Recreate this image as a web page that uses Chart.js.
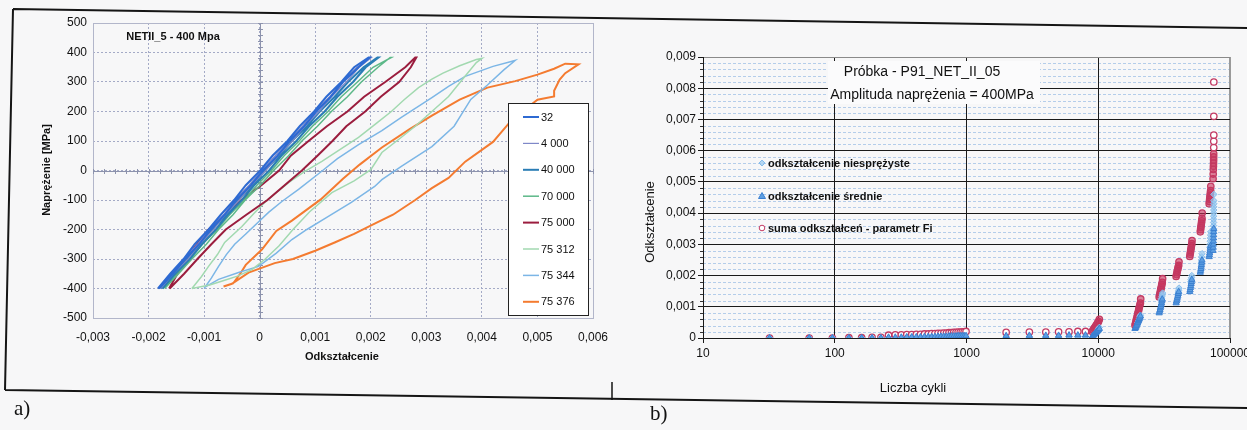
<!DOCTYPE html>
<html><head><meta charset="utf-8">
<script src="https://cdn.jsdelivr.net/npm/chart.js@4.4.1/dist/chart.umd.min.js"></script>
<style>
html,body{margin:0;padding:0;background:#f7f7f8;overflow:hidden;width:1247px;height:430px;position:relative;}
canvas{position:absolute;display:block;}
#deco{left:0;top:0;}
#cL{left:0;top:0;}
#cR{left:612px;top:0;}
.lbl{position:absolute;font-family:"Liberation Serif","DejaVu Serif",serif;font-size:21px;color:#111;}
</style></head><body>
<canvas id="deco" width="1247" height="430"></canvas>
<canvas id="cL" width="612" height="400"></canvas>
<canvas id="cR" width="660" height="430"></canvas>
<div class="lbl" style="left:14px;top:396px">a)</div>
<div class="lbl" style="left:650px;top:401px">b)</div>
<script>
// ================= DATA: left chart (stress-strain loops) =================
const loopLabels = ['32','4 000','40 000','70 000','75 000','75 312','75 344','75 376'];
const xTicksLeft = [-0.003,-0.002,-0.001,0,0.001,0.002,0.003,0.004,0.005,0.006];
const yTicksLeft = [-500,-400,-300,-200,-100,0,100,200,300,400,500];

const stressCluster = [-400,-350,-300,-250,-200,-150,-100,-50,0,50,100,150,200,250,300,350,383,
                       383,350,300,250,200,150,100,50,0,-50,-100,-150,-200,-250,-300,-350,-400];
const strain32 = [-0.00183,-0.00161,-0.00137,-0.00117,-0.00092,-0.0007,-0.00046,-0.00025,0.00001,0.00023,0.0005,0.00072,0.00098,0.0012,0.00147,0.0017,0.00196,
                  0.00198,0.00178,0.0015,0.00128,0.00102,0.0008,0.00054,0.00032,0.00006,-0.00016,-0.00042,-0.00063,-0.00088,-0.00109,-0.00134,-0.00156,-0.00181];
const strain4000 = [-0.00181,-0.00157,-0.00136,-0.00112,-0.00091,-0.00065,-0.00045,-0.00019,0.00003,0.00028,0.00051,0.00077,0.00099,0.00126,0.00149,0.00175,0.00199,
                    0.00201,0.00179,0.00156,0.00129,0.00107,0.00081,0.00059,0.00033,0.00011,-0.00015,-0.00037,-0.00062,-0.00083,-0.00108,-0.00129,-0.00156,-0.00178];
const strain40000 = [-0.00178,-0.00153,-0.00132,-0.00107,-0.00086,-0.0006,-0.00039,-0.00013,0.00009,0.00035,0.00058,0.00085,0.00108,0.00135,0.00159,0.00187,0.00212,
                     0.00214,0.00191,0.00168,0.0014,0.00117,0.00089,0.00066,0.00039,0.00017,-0.0001,-0.00032,-0.00057,-0.00079,-0.00104,-0.00126,-0.00152,-0.00175];
const strain70000 = [-0.00174,-0.0015,-0.00125,-0.00103,-0.00077,-0.00054,-0.00028,-0.00005,0.00021,0.00044,0.00071,0.00095,0.00123,0.00147,0.00176,0.00204,0.00237,
                     0.00235,0.00213,0.00183,0.00158,0.00129,0.00104,0.00076,0.00052,0.00025,0.00001,-0.00026,-0.00048,-0.00074,-0.00096,-0.00122,-0.00146,-0.00171];
const strain75000 = [-0.00163,-0.00148,-0.00134,-0.00113,-0.00092,-0.00062,-0.00033,0.00003,0.00035,0.00056,0.00088,0.00121,0.00158,0.00188,0.00226,0.00262,0.0028,
                     0.00282,0.00272,0.00251,0.00218,0.0019,0.00156,0.00131,0.00104,0.00076,0.00045,0.00014,-0.00024,-0.00061,-0.00087,-0.00112,-0.00136,-0.00162];
const stress75000 = stressCluster;
const strain75312 = [-0.00122,-0.00105,-0.00092,-0.00076,-0.00063,-0.00032,-0.0001,0.00009,0.0003,0.00052,0.0008,0.00112,0.00145,0.00178,0.0021,0.00237,0.0026,0.00286,0.0031,0.0033,0.0036,0.0039,0.004,
                     0.0039,0.0037,0.0034,0.0031,0.0028,0.0025,0.0022,0.002,0.0017,0.0013,0.0009,0.0006,0.00035,0.0001,-0.00014,-0.0004,-0.00063,-0.0009,-0.00122];
const stress75312 = [-400,-360,-325,-285,-244,-190,-145,-108,-75,-41,-5,31,72,112,160,200,240,281,310,330,355,376,380,
                     366,320,251,200,150,105,61,3,-35,-75,-140,-200,-255,-300,-336,-358,-372,-388,-400];
const strain75344 = [-0.001,-0.00087,-0.00074,-0.0006,-0.00045,-0.00025,0.00016,0.0004,0.0007,0.0011,0.0014,0.00178,0.0022,0.00255,0.0031,0.0034,0.0037,0.0042,0.0046,
                     0.0044,0.0041,0.0038,0.0035,0.0031,0.00255,0.0022,0.00207,0.00165,0.0012,0.00085,0.00058,0.0003,-0.00002,-0.00038,-0.00074,-0.001];
const stress75344 = [-400,-365,-325,-285,-250,-215,-142,-105,-64,-5,40,88,135,180,247,285,319,353,373,
                     342,290,241,150,81,14,-31,-54,-108,-160,-200,-234,-280,-325,-346,-369,-397];
const strain75376 = [-0.00065,-0.00048,-0.00035,-0.00025,0.00004,0.0003,0.00058,0.0011,0.0015,0.0018,0.0022,0.0027,0.0031,0.0036,0.0041,0.0046,0.005,0.0053,0.0055,0.00574,
                     0.0055,0.0054,0.0053,0.0053,0.005,0.0048,0.0045,0.0042,0.0037,0.0034,0.0031,0.0028,0.0024,0.00207,0.0017,0.00135,0.001,0.0006,0.00027,-0.0002,-0.0005,-0.00065];
const stress75376 = [-393,-383,-350,-320,-268,-205,-170,-98,-28,20,78,140,186,240,281,303,325,345,362,360,
                     330,308,270,251,240,210,163,97,30,-25,-60,-100,-150,-180,-215,-244,-272,-300,-314,-346,-384,-393];

// ================= DATA: right chart (strain vs cycles) =================
const seriesNames = ['odkształcenie niesprężyste','odkształcenie średnie','suma odkształceń - parametr Fi'];
const yTicksRight = [0,0.001,0.002,0.003,0.004,0.005,0.006,0.007,0.008,0.009];
const xTicksRight = [10,100,1000,10000,100000];

const sumaN = [32,64,96,128,160,192,224,
  256,288,320,352,384,416,448,480,512,544,576,608,640,672,704,736,768,800,832,864,896,928,960,992,
  2000,3000,4000,5000,6000,7000,8000,
  9000,9150,9300,9450,9600,9750,9900,10050,10200,
  19000,19200,19350,19500,19700,19850,20000,20200,20350,20500,20700,20900,21000,
  29000,29200,29400,29600,29800,30000,30200,30400,30600,30800,
  39000,39300,39600,39900,40200,40500,40800,41000,
  49500,49800,50100,50400,50700,51000,51300,51500,
  59500,59800,60100,60400,60700,61000,61300,61500,
  69500,69800,70100,70400,70700,71000,71300,71500,
  74400,74550,74700,74850,75000,75100,75150,75200,75250,75300,75330,75350,75376];
const sumaE = [0,0,0,0.00001,0.00001,0.00002,0.00002,
  0.00009,0.0001,0.0001,0.00011,0.00011,0.00012,0.00012,0.00013,0.00013,0.00014,0.00014,0.00015,0.00015,0.00016,0.00016,0.00017,0.00017,0.00018,0.00018,0.00019,0.00019,0.0002,0.0002,0.00021,
  0.00018,0.00019,0.00019,0.0002,0.0002,0.00021,0.00021,
  0.00021,0.00026,0.00031,0.00035,0.0004,0.00044,0.00049,0.00053,0.0006,
  0.00041,0.00047,0.00054,0.0006,0.00067,0.00073,0.0008,0.00086,0.00093,0.00099,0.00106,0.00112,0.00125,
  0.00131,0.00137,0.00142,0.00149,0.00155,0.0016,0.00166,0.00172,0.00178,0.0019,
  0.00197,0.00203,0.0021,0.00216,0.00222,0.00228,0.00233,0.00244,
  0.00261,0.00268,0.00275,0.00282,0.00289,0.00296,0.00302,0.00312,
  0.0034,0.00347,0.00354,0.00361,0.00368,0.00375,0.00383,0.004,
  0.0043,0.00437,0.00444,0.00451,0.00458,0.00465,0.00472,0.00486,
  0.0051,0.00525,0.0054,0.0055,0.0056,0.0057,0.0058,0.0059,0.0061,0.0063,0.0065,0.0071,0.0082];

const srednieN = [32,64,96,128,160,192,224,
  256,288,320,352,384,416,448,480,512,544,576,608,640,672,704,736,768,800,832,864,896,928,960,992,
  2000,3000,4000,5000,6000,7000,8000,
  9000,9150,9300,9450,9600,9750,9900,10050,10200,
  19000,19200,19350,19500,19700,19850,20000,20200,20350,20500,20700,20900,
  29000,29200,29400,29600,29800,30000,30200,30400,30600,
  39000,39300,39600,39900,40200,40500,40800,
  49500,49800,50100,50400,50700,51000,51300,
  59500,59800,60100,60400,60700,61000,61300,
  69500,69800,70100,70400,70700,71000,71300,
  74400,74550,74700,74850,75000,75100,75200,75300];
const srednieE = [0,0,0,0,0,0,0,
  0.00002,0.00002,0.00002,0.00003,0.00003,0.00003,0.00003,0.00004,0.00004,0.00004,0.00004,0.00005,0.00005,0.00005,0.00005,0.00006,0.00006,0.00006,0.00006,0.00007,0.00007,0.00007,0.00007,0.00007,
  0.00007,0.00008,0.00008,0.00008,0.00009,0.00009,0.00009,
  0.00005,0.00008,0.00011,0.00014,0.00017,0.0002,0.00023,0.00026,0.0003,
  0.0003,0.00033,0.00037,0.0004,0.00044,0.00048,0.00051,0.00055,0.00059,0.00062,0.00066,0.0007,
  0.0008,0.00085,0.0009,0.00096,0.00101,0.00107,0.00112,0.00118,0.00124,
  0.00112,0.00118,0.00124,0.0013,0.00136,0.00142,0.00148,
  0.00148,0.00154,0.00161,0.00167,0.00174,0.0018,0.00187,
  0.0021,0.00216,0.00222,0.00229,0.00235,0.00242,0.00249,
  0.0026,0.00266,0.00272,0.00278,0.00284,0.0029,0.00296,
  0.0028,0.0029,0.003,0.0031,0.0032,0.0033,0.0034,0.0035];

const niespN = [32,64,96,128,160,192,224,
  256,320,384,448,512,576,640,704,768,832,896,960,
  2000,3000,4000,5000,6000,7000,8000,
  9400,9600,9800,10000,10200,
  20000,20300,20500,20700,20900,
  30000,30200,30400,30600,30800,
  40200,40500,40800,41000,
  50400,50700,51000,51300,
  60400,60700,61000,61300,
  70400,70600,70800,71000,71200,71400,
  74800,74900,75000,75050,75100,75150,75200,75250,75300,75330,75350,75376];
const niespE = [0,0,0,0,0,0,0,
  0.00001,0.00001,0.00002,0.00002,0.00002,0.00003,0.00003,0.00003,0.00003,0.00004,0.00004,0.00004,
  0.00003,0.00003,0.00003,0.00003,0.00004,0.00004,0.00004,
  0.0001,0.00016,0.00022,0.00028,0.00034,
  0.0005,0.00056,0.00062,0.00068,0.00073,
  0.0012,0.00126,0.00132,0.00138,0.00144,
  0.0014,0.00147,0.00153,0.0016,
  0.0018,0.00187,0.00193,0.002,
  0.0024,0.0025,0.0026,0.0027,
  0.0029,0.0030,0.0031,0.0032,0.0033,0.0034,
  0.0034,0.0035,0.0036,0.0037,0.0038,0.0039,0.004,0.0041,0.0042,0.0043,0.0044,0.0046];

// ================= helpers =================
const FONT = '"Liberation Sans", Arial, Helvetica, sans-serif';
Chart.defaults.font.family = FONT;
Chart.defaults.font.size = 12;
Chart.defaults.color = '#111';
Chart.defaults.animation = false;

function pts(xs, ys){ return xs.map((x,i)=>({x:x, y:ys[i]})); }
function plFmt(v){ const k = Math.round(v*1000); if (k===0) return '0'; return (k<0?'-':'')+'0,00'+Math.abs(k); }

// ================= decoration (frames of the figure) =================
(function(){
  const c = document.getElementById('deco').getContext('2d');
  c.strokeStyle = '#151515'; c.lineWidth = 2;
  c.beginPath();
  c.moveTo(13,9); c.lineTo(1247,28);
  c.moveTo(13,9); c.lineTo(5,390);
  c.moveTo(5,390); c.lineTo(1247,408);
  c.stroke();
  c.lineWidth = 1.5;
  c.beginPath(); c.moveTo(612,382); c.lineTo(612,400); c.stroke();
})();

// ================= LEFT CHART =================
const loopColors = ['#2e6ad2','#7f88c8','#2a7db5','#5cb888','#9b1d3e','#a2d9b0','#7cb6e6','#f47b30'];
const loopWidths = [2,1.2,2,1.5,2,1.5,1.5,2];
const loopData = [pts(strain32,stressCluster),pts(strain4000,stressCluster),pts(strain40000,stressCluster),
  pts(strain70000,stressCluster),pts(strain75000,stress75000),pts(strain75312,stress75312),
  pts(strain75344,stress75344),pts(strain75376,stress75376)];

const leftDecor = {
  id:'leftDecor',
  beforeDatasetsDraw(chart){
    const {ctx, chartArea:a, scales:{x,y}} = chart;
    ctx.save();
    ctx.strokeStyle = '#b2b6ca'; ctx.lineWidth = 1;
    ctx.strokeRect(a.left+0.5, a.top+0.5, a.right-a.left, a.bottom-a.top);
    const y0 = Math.round(y.getPixelForValue(0))+0.5, x0 = Math.round(x.getPixelForValue(0))+0.5;
    ctx.strokeStyle = '#8d93ad';
    ctx.beginPath(); ctx.moveTo(a.left,y0); ctx.lineTo(a.right,y0);
    ctx.moveTo(x0,a.top); ctx.lineTo(x0,a.bottom);
    for (let v=-0.003; v<=0.00601; v+=0.0002){ const p=Math.round(x.getPixelForValue(v))+0.5; ctx.moveTo(p,y0-2.5); ctx.lineTo(p,y0+2.5); }
    for (let v=-500; v<=500; v+=20){ const p=Math.round(y.getPixelForValue(v))+0.5; ctx.moveTo(x0-2.5,p); ctx.lineTo(x0+2.5,p); }
    ctx.stroke();
    ctx.restore();
  },
  afterDatasetsDraw(chart){
    const ctx = chart.ctx;
    ctx.save();
    // legend
    ctx.fillStyle = '#fff'; ctx.fillRect(508,103,80,212);
    ctx.strokeStyle = '#222'; ctx.lineWidth = 1; ctx.strokeRect(508.5,103.5,80,212);
    ctx.font = '11px '+FONT; ctx.textBaseline = 'middle'; ctx.textAlign = 'left';
    chart.data.datasets.forEach((ds,i)=>{
      const yy = 117 + i*26.4;
      ctx.strokeStyle = ds.borderColor; ctx.lineWidth = ds.borderWidth;
      ctx.beginPath(); ctx.moveTo(523,yy); ctx.lineTo(539,yy); ctx.stroke();
      ctx.fillStyle = '#111'; ctx.fillText(ds.label,541,yy+0.5);
    });
    // title & axis titles
    ctx.fillStyle = '#111';
    ctx.font = 'bold 11px '+FONT; ctx.textAlign = 'center';
    ctx.fillText('NETII_5 - 400 Mpa', 173, 37);
    ctx.fillText('Odkształcenie', 342, 357);
    ctx.translate(47,170); ctx.rotate(-Math.PI/2);
    ctx.fillText('Naprężenie [MPa]', 0, 0);
    ctx.restore();
  }
};

new Chart(document.getElementById('cL'), {
  type:'scatter',
  data:{ datasets: loopLabels.map((l,i)=>({label:l, data:loopData[i], showLine:true, borderColor:loopColors[i],
    backgroundColor:loopColors[i], borderWidth:loopWidths[i], pointRadius:0, tension:0, fill:false})) },
  options:{
    responsive:false,
    layout:{padding:{left:33,right:19,top:23,bottom:52}},
    plugins:{legend:{display:false}, tooltip:{enabled:false}},
    scales:{
      x:{type:'linear', min:-0.003, max:0.006,
         afterBuildTicks:(s)=>{ s.ticks = xTicksLeft.map(v=>({value:v})); },
         afterFit:(s)=>{ s.height = 30; },
         ticks:{callback:(v)=>plFmt(v), padding:3, autoSkip:false, maxRotation:0, font:{size:12}},
         grid:{color:'#a4aac6', drawTicks:true, tickLength:9, tickColor:'rgba(0,0,0,0)'}, border:{display:false, dash:[2,2]}},
      y:{type:'linear', min:-500, max:500,
         afterBuildTicks:(s)=>{ s.ticks = yTicksLeft.map(v=>({value:v})); },
         afterFit:(s)=>{ s.width = 60; },
         ticks:{padding:6, font:{size:12}},
         grid:{color:'#a4aac6', drawTicks:false}, border:{display:false, dash:[2,2]}}
    }
  },
  plugins:[leftDecor]
});

// ================= RIGHT CHART =================
const rightDecor = {
  id:'rightDecor',
  beforeDraw(chart){
    const {ctx, chartArea:a, scales:{y}} = chart;
    ctx.save();
    ctx.strokeStyle = '#b4cdea'; ctx.lineWidth = 1; ctx.setLineDash([3,2]);
    ctx.beginPath();
    for (let k=1; k<45; k++){ if (k%5===0) continue; const p=Math.round(y.getPixelForValue(k*0.0002))+0.5; ctx.moveTo(a.left,p); ctx.lineTo(a.right,p); }
    ctx.stroke();
    ctx.setLineDash([]); ctx.strokeStyle = '#333';
    ctx.beginPath();
    for (let k=1; k<45; k++){ if (k%5===0) continue; const p=Math.round(y.getPixelForValue(k*0.0002))+0.5; ctx.moveTo(a.left-3,p); ctx.lineTo(a.left,p); }
    ctx.stroke();
    ctx.strokeStyle = '#999';
    ctx.beginPath(); ctx.moveTo(a.right-0.5,a.top); ctx.lineTo(a.right-0.5,a.bottom); ctx.stroke();
    ctx.restore();
  },
  beforeDatasetsDraw(chart){
    const ctx = chart.ctx;
    ctx.save();
    ctx.fillStyle = '#fbfbfc'; ctx.fillRect(216,61,212,43);
    ctx.fillStyle = '#111'; ctx.font = '14px '+FONT; ctx.textAlign = 'center'; ctx.textBaseline = 'middle';
    ctx.fillText('Próbka - P91_NET_II_05', 310, 72);
    ctx.fillText('Amplituda naprężenia = 400MPa', 320, 95);
    // axis titles
    ctx.font = '13px '+FONT;
    ctx.fillText('Liczba cykli', 301, 388);
    ctx.save(); ctx.translate(38,222); ctx.rotate(-Math.PI/2); ctx.fillText('Odkształcenie',0,0); ctx.restore();
    // legend
    const ly = [163,196,228];
    ctx.font = 'bold 11px '+FONT; ctx.textAlign = 'left';
    chart.data.datasets.forEach((ds,i)=>{
      const x = 150, yy = ly[i];
      ctx.strokeStyle = ds.borderColor; ctx.lineWidth = 1;
      ctx.fillStyle = ds.pointStyle==='circle' ? '#ffffff' : ds.backgroundColor;
      ctx.beginPath();
      if (ds.pointStyle==='rectRot'){ ctx.moveTo(x,yy-3); ctx.lineTo(x+3,yy); ctx.lineTo(x,yy+3); ctx.lineTo(x-3,yy); ctx.closePath(); }
      else if (ds.pointStyle==='triangle'){ ctx.moveTo(x,yy-3.5); ctx.lineTo(x+3.5,yy+2.5); ctx.lineTo(x-3.5,yy+2.5); ctx.closePath(); }
      else { ctx.arc(x,yy,2.8,0,Math.PI*2); }
      ctx.fill(); ctx.stroke();
      ctx.fillStyle = '#111'; ctx.fillText(ds.label, 156, yy+0.5);
    });
    ctx.restore();
  }
};

new Chart(document.getElementById('cR'), {
  type:'scatter',
  data:{ datasets:[
    {label:seriesNames[0], data:pts(niespN,niespE), pointStyle:'rectRot', pointRadius:3.2, borderWidth:1,
     borderColor:'#86bdec', backgroundColor:'rgba(150,200,240,0.7)', order:2},
    {label:seriesNames[1], data:pts(srednieN,srednieE), pointStyle:'triangle', pointRadius:3.6, borderWidth:1,
     borderColor:'#3a7fd0', backgroundColor:'#5d9fe2', order:1},
    {label:seriesNames[2], data:pts(sumaN,sumaE), pointStyle:'circle', pointRadius:3.2, borderWidth:1.3,
     borderColor:'#c33a63',
     backgroundColor:(c)=> (c.raw && c.raw.x>=9000 && c.raw.y<0.006) ? 'rgba(200,50,90,0.6)' : 'rgba(255,255,255,0.9)', order:3}
  ]},
  options:{
    responsive:false,
    layout:{padding:{left:31,right:42,top:57,bottom:62}},
    plugins:{legend:{display:false}, tooltip:{enabled:false}},
    scales:{
      x:{type:'logarithmic', min:10, max:100000,
         afterBuildTicks:(s)=>{ s.ticks = xTicksRight.map(v=>({value:v})); },
         afterFit:(s)=>{ s.height = 30; },
         ticks:{callback:(v)=>String(v), padding:3, autoSkip:false, maxRotation:0, font:{size:12}},
         grid:{color:(c)=> (c.tick && c.tick.value===100000) ? '#9a9a9a' : '#1a1a1a', tickLength:5, tickColor:'#1a1a1a'},
         border:{color:'#1a1a1a', width:1}},
      y:{type:'linear', min:0, max:0.009,
         afterBuildTicks:(s)=>{ s.ticks = yTicksRight.map(v=>({value:v})); },
         afterFit:(s)=>{ s.width = 60; },
         ticks:{callback:(v)=>plFmt(v), padding:2, autoSkip:false, font:{size:12}},
         grid:{color:(c)=> (c.tick && c.tick.value>0.0089) ? '#8a8a8a' : '#1a1a1a', tickLength:5, tickColor:'#1a1a1a'},
         border:{color:'#1a1a1a', width:1}}
    }
  },
  plugins:[rightDecor]
});
</script>
</body></html>
